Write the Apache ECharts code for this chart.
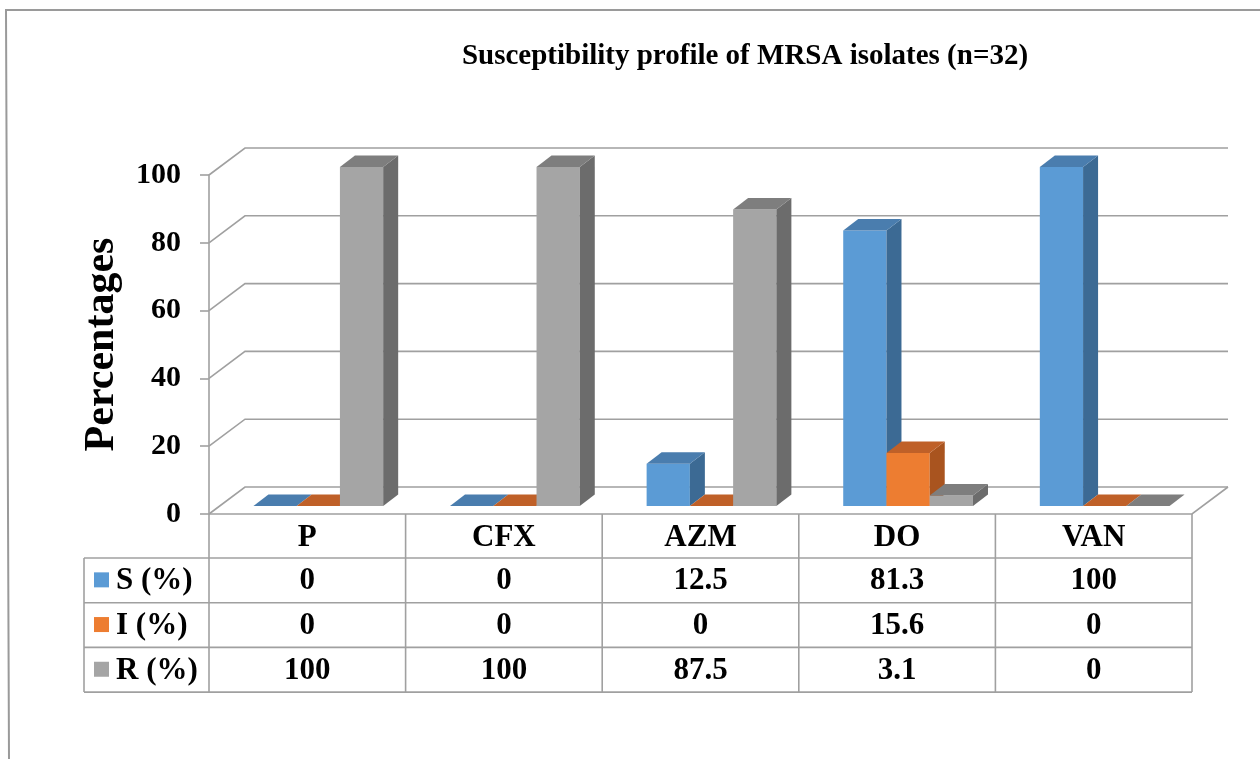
<!DOCTYPE html>
<html>
<head>
<meta charset="utf-8">
<script src="https://cdn.jsdelivr.net/npm/echarts@6/dist/echarts.min.js"></script>
<style>
  html, body { margin: 0; padding: 0; background: #ffffff; }
  #chart { width: 1260px; height: 759px; }
</style>
</head>
<body>
<div id="chart"></div>
<script>
// Antibiotic categories and percentage values per susceptibility class
const categories = ['P', 'CFX', 'AZM', 'DO', 'VAN'];
const sValues = [0, 0, 12.5, 81.3, 100];
const iValues = [0, 0, 0, 15.6, 0];
const rValues = [100, 100, 87.5, 3.1, 0];
const seriesNames = ['S (%)', 'I (%)', 'R (%)'];
const yTicks = [0, 20, 40, 60, 80, 100];
const titleText = 'Susceptibility profile of MRSA isolates (n=32)';
const yAxisTitle = 'Percentages';

// Styling / 3D projection constants
const FONT = '"Liberation Serif", "Times New Roman", serif';
const LINE = '#a0a0a0';
const DEPTH_DX = 36, DEPTH_DY = -27;      // full depth of the box
const FRONT_DX = 11, FRONT_DY = -8;       // bar front plane offset
const SIDE_DX = 15, SIDE_DY = -11.5;      // bar depth
const BAR_FRAC = 0.22;                    // bar width as share of category band
const HEADER_H = 44, ROW_H = 44.7;
const LABEL_COL_X = 84;
const TABLE_FONT = 'bold 31px ' + FONT;
const palettes = [
  { front: '#5B9BD5', side: '#3C6A94', top: '#4A7DAE' },
  { front: '#ED7D31', side: '#A9541F', top: '#BF6028' },
  { front: '#A5A5A5', side: '#6C6C6C', top: '#7E7E7E' }
];
const seriesValues = [sValues, iValues, rValues];

const lineStyle = { stroke: LINE, lineWidth: 1.6, fill: null };

function frameRenderer(params, api) {
  const cs = params.coordSys;
  const left = cs.x, right = cs.x + cs.width;
  const y0 = api.coord([0, 0])[1];
  const children = [];
  // back wall gridlines with slanted left-wall segments
  yTicks.forEach(function (v) {
    const y = api.coord([0, v])[1];
    children.push({
      type: 'polyline',
      shape: { points: [[left, y], [left + DEPTH_DX, y + DEPTH_DY], [right + DEPTH_DX, y + DEPTH_DY]] },
      style: lineStyle
    });
  });
  // floor front and right edges
  children.push({
    type: 'polyline',
    shape: { points: [[left, y0], [right, y0], [right + DEPTH_DX, y0 + DEPTH_DY]] },
    style: lineStyle
  });
  // data table horizontal rules
  const rowTops = [];
  for (let r = 0; r <= seriesNames.length; r++) rowTops.push(y0 + HEADER_H + r * ROW_H);
  rowTops.forEach(function (y) {
    children.push({ type: 'line', shape: { x1: LABEL_COL_X, y1: y, x2: right, y2: y }, style: lineStyle });
  });
  children.push({
    type: 'line',
    shape: { x1: LABEL_COL_X, y1: rowTops[0], x2: LABEL_COL_X, y2: rowTops[rowTops.length - 1] },
    style: lineStyle
  });
  // legend keys in the table's label column
  seriesNames.forEach(function (name, r) {
    const cy = rowTops[r] + ROW_H / 2;
    children.push({
      type: 'rect',
      shape: { x: 94, y: cy - 8, width: 15, height: 15 },
      style: { fill: palettes[r].front }
    });
    children.push({
      type: 'text',
      style: {
        x: 116, y: cy + 1, text: name, fill: '#000',
        font: TABLE_FONT, align: 'left', verticalAlign: 'middle'
      }
    });
  });
  return { type: 'group', children: children };
}

function barRenderer(slot) {
  const pal = palettes[slot];
  return function (params, api) {
    const cat = api.value(0), v = api.value(1);
    const base = api.coord([cat, 0]);
    const top = api.coord([cat, v]);
    const band = api.size([1, 0])[0];
    const bw = band * BAR_FRAC;
    const x0 = base[0] - 1.5 * bw + slot * bw + FRONT_DX;
    const x1 = x0 + bw;
    const yb = base[1] + FRONT_DY;
    const yt = top[1] + FRONT_DY;
    return {
      type: 'group',
      children: [
        { type: 'rect', shape: { x: x0, y: yt, width: bw, height: yb - yt }, style: { fill: pal.front } },
        {
          type: 'polygon',
          shape: { points: [[x1, yb], [x1 + SIDE_DX, yb + SIDE_DY], [x1 + SIDE_DX, yt + SIDE_DY], [x1, yt]] },
          style: { fill: pal.side }
        },
        {
          type: 'polygon',
          shape: { points: [[x0, yt], [x1, yt], [x1 + SIDE_DX, yt + SIDE_DY], [x0 + SIDE_DX, yt + SIDE_DY]] },
          style: { fill: pal.top }
        }
      ]
    };
  };
}

function tableRenderer(params, api) {
  const cat = api.value(0);
  const c = api.coord([cat, 0]);
  const band = api.size([1, 0])[0];
  const left = c[0] - band / 2, right = c[0] + band / 2;
  const y0 = c[1];
  const bottom = y0 + HEADER_H + seriesNames.length * ROW_H;
  const children = [
    { type: 'line', shape: { x1: left, y1: y0, x2: left, y2: bottom }, style: lineStyle }
  ];
  if (cat === categories.length - 1) {
    children.push({ type: 'line', shape: { x1: right, y1: y0, x2: right, y2: bottom }, style: lineStyle });
  }
  children.push({
    type: 'text',
    style: {
      x: c[0], y: y0 + HEADER_H / 2 + 2, text: categories[cat], fill: '#000',
      font: TABLE_FONT, align: 'center', verticalAlign: 'middle'
    }
  });
  seriesValues.forEach(function (vals, r) {
    children.push({
      type: 'text',
      style: {
        x: c[0], y: y0 + HEADER_H + r * ROW_H + ROW_H / 2 + 1, text: String(vals[cat]), fill: '#000',
        font: TABLE_FONT, align: 'center', verticalAlign: 'middle'
      }
    });
  });
  return { type: 'group', children: children };
}

const chart = echarts.init(document.getElementById('chart'), null, { renderer: 'canvas' });

const series = [{
  type: 'custom',
  name: 'frame',
  renderItem: frameRenderer,
  data: [[0, 0]],
  clip: false,
  silent: true,
  z: 1
}];
seriesValues.forEach(function (vals, s) {
  series.push({
    type: 'custom',
    name: seriesNames[s],
    renderItem: barRenderer(s),
    data: vals.map(function (v, i) { return [i, v]; }),
    encode: { x: 0, y: 1 },
    clip: false,
    z: 2
  });
});
series.push({
  type: 'custom',
  name: 'table',
  renderItem: tableRenderer,
  data: categories.map(function (c, i) { return [i, 0]; }),
  clip: false,
  silent: true,
  z: 3
});

chart.setOption({
  animation: false,
  backgroundColor: '#ffffff',
  grid: { left: 209, right: 68, top: 175, bottom: 245, containLabel: false },
  xAxis: {
    type: 'category',
    data: categories,
    axisLine: { show: false },
    axisTick: { show: false },
    axisLabel: { show: false },
    splitLine: { show: false }
  },
  yAxis: {
    type: 'value',
    min: 0, max: 100, interval: 20,
    name: yAxisTitle,
    nameLocation: 'middle',
    nameRotate: 90,
    nameGap: 86,
    nameTextStyle: { fontFamily: FONT, fontWeight: 'bold', fontSize: 42, color: '#000' },
    axisLine: { show: true, lineStyle: { color: LINE, width: 1.6 } },
    axisTick: { show: true, inside: false, length: 9, lineStyle: { color: LINE, width: 1.6 } },
    axisLabel: { margin: 28, fontFamily: FONT, fontWeight: 'bold', fontSize: 30, color: '#000' },
    splitLine: { show: false }
  },
  graphic: [
    {
      type: 'polyline',
      shape: { points: [[1260, 10], [6, 10], [9, 759]] },
      style: { stroke: '#9a9a9a', lineWidth: 2, fill: null },
      silent: true
    },
    {
      type: 'text',
      style: {
        x: 745, y: 57, text: titleText, fill: '#000',
        font: 'bold 29px ' + FONT, align: 'center', verticalAlign: 'middle'
      },
      silent: true
    }
  ],
  series: series
});
</script>
</body>
</html>
